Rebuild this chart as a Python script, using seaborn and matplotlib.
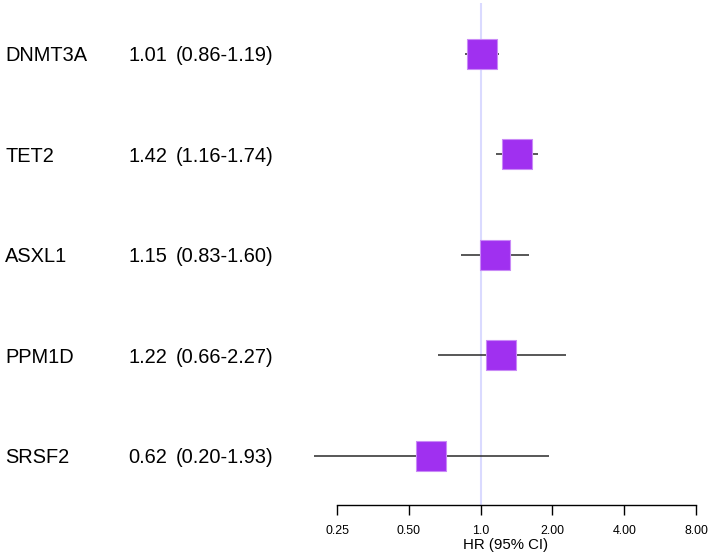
import matplotlib
matplotlib.use("Agg")
import matplotlib.pyplot as plt
import matplotlib.transforms as mtransforms
import seaborn as sns
import pandas as pd
import numpy as np

genes = ["DNMT3A", "TET2", "ASXL1", "PPM1D", "SRSF2"]
hr = [1.01, 1.42, 1.15, 1.22, 0.62]
ci_low = [0.86, 1.16, 0.83, 0.66, 0.20]
ci_high = [1.19, 1.74, 1.60, 2.27, 1.93]
hr_text = ["1.01", "1.42", "1.15", "1.22", "0.62"]
ci_text = ["(0.86-1.19)", "(1.16-1.74)", "(0.83-1.60)", "(0.66-2.27)", "(0.20-1.93)"]
xticks = [0.25, 0.5, 1.0, 2.0, 4.0, 8.0]
xtick_labels = ["0.25", "0.50", "1.0", "2.00", "4.00", "8.00"]
xlabel = "HR (95% CI)"

df = pd.DataFrame({"gene": genes, "hr": hr, "lo": ci_low, "hi": ci_high,
                   "row": np.arange(len(genes))})

sns.set_style("white")
plt.rcParams["font.family"] = ["Liberation Sans", "DejaVu Sans"]
plt.rcParams["text.color"] = "black"
plt.rcParams["axes.labelcolor"] = "black"
plt.rcParams["xtick.color"] = "black"

W, H = 714, 557
fig = plt.figure(figsize=(W / 100, H / 100), dpi=100)
left_px, right_px, top_px, bottom_px = 337, 696, 3, 505
ax = fig.add_axes([left_px / W, 1 - bottom_px / H,
                   (right_px - left_px) / W, (bottom_px - top_px) / H])

ax.set_xscale("log", base=2)
ax.set_xlim(0.25, 8)
ax.set_ylim(4.49, -0.503)

ax.axvline(1.0, color="#dadaff", lw=1.5, zorder=1)
ax.hlines(df["row"], df["lo"], df["hi"], color="#2a2a2a", lw=1.1, zorder=2, clip_on=False)
sns.scatterplot(data=df, x="hr", y="row", marker="s", s=470, color="#a030f0",
                edgecolor="#c98af7", linewidth=0.8, legend=False, ax=ax, zorder=3,
                clip_on=False)

ax.set_xticks(xticks)
ax.set_xticklabels(xtick_labels, fontsize=8.9)
ax.xaxis.set_minor_locator(matplotlib.ticker.NullLocator())
ax.set_yticks([])
ax.set_xlabel(xlabel, fontsize=10.8, labelpad=0)
ax.xaxis.set_label_coords((505.5 - left_px) / (right_px - left_px), -0.065)
ax.set_ylabel("")
for s in ["top", "left", "right"]:
    ax.spines[s].set_visible(False)
ax.spines["bottom"].set_color("black")
ax.spines["bottom"].set_linewidth(1.0)
ax.tick_params(axis="x", bottom=True, direction="out", length=7, width=1,
               color="black", labelcolor="black", pad=7.5)

# left text columns
trans = mtransforms.blended_transform_factory(fig.transFigure, ax.transData)
trans = mtransforms.offset_copy(trans, fig=fig, x=0, y=-7.5, units="dots")
for i in range(len(genes)):
    ax.text(5 / W, i, genes[i], transform=trans, fontsize=14.4, va="baseline", ha="left",
            color="black", clip_on=False)
    ax.text(128 / W, i, hr_text[i], transform=trans, fontsize=14.4, va="baseline", ha="left",
            color="black", clip_on=False)
    ax.text(176 / W, i, ci_text[i], transform=trans, fontsize=14.4, va="baseline", ha="left",
            color="black", clip_on=False)

fig.savefig("out.png", dpi=100)
